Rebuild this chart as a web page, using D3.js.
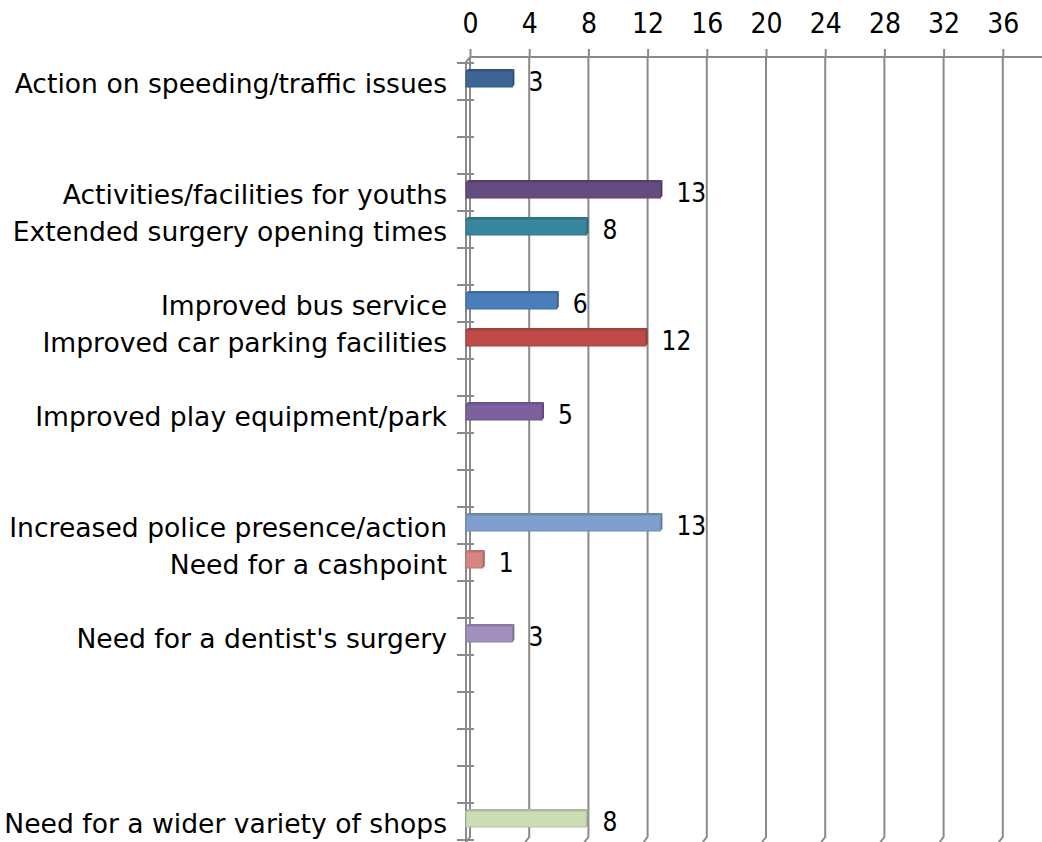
<!DOCTYPE html>
<html><head><meta charset="utf-8">
<script src="https://cdn.jsdelivr.net/npm/d3@7"></script>
<style>
html,body{margin:0;padding:0;background:#fff;}
svg{display:block;}
text{font-family:"DejaVu Sans",sans-serif;fill:#000;}
</style></head><body>
<svg id="c" width="1042" height="842"></svg>
<script>
const categories = [
  "Action on speeding/traffic issues", "", "",
  "Activities/facilities for youths", "Extended surgery opening times", "",
  "Improved bus service", "Improved car parking facilities", "",
  "Improved play equipment/park", "", "",
  "Increased police presence/action", "Need for a cashpoint", "",
  "Need for a dentist's surgery", "", "", "", "",
  "Need for a wider variety of shops"
];
const values = [3, null, null, 13, 8, null, 6, 12, null, 5, null, null, 13, 1, null, 3, null, null, null, null, 8];
const colors = ["#3D6596", null, null, "#654C80", "#37869B", null, "#4A7EBB", "#BE4B48", null, "#7D60A0", null, null,
  "#7F9FCF", "#D88683", null, "#A290BF", null, null, null, null, "#CCDDB6"];
const tickValues = [0, 4, 8, 12, 16, 20, 24, 28, 32, 36];

const condensed = '"DejaVu Sans Condensed","DejaVu Sans",sans-serif';
const svg = d3.select("#c");
const idx = categories.map((d, i) => i);
const x = d3.scaleLinear().domain([0, 40]).range([470, 470 + 40 * 14.8]);
const y = d3.scaleBand().domain(idx).range([63, 840]).paddingInner(0).paddingOuter(0);
const depth = 4, topY = 57, floorY = 837;
const gridColor = "#8a8a8a";

// gridlines (back wall + floor diagonal)
const g = svg.append("g");
tickValues.concat([40]).forEach(v => {
  g.append("path")
    .attr("d", `M${x(v)},${topY}V${floorY}L${x(v) - depth},${floorY + 5}`)
    .attr("fill", "none").attr("stroke", gridColor).attr("stroke-width", 2);
});

// top axis
const xAxis = d3.axisTop(x).tickValues(tickValues).tickSizeInner(8).tickSizeOuter(0).tickFormat(d3.format("d"));
const ax = svg.append("g").attr("transform", `translate(0,${topY})`).call(xAxis);
ax.select(".domain").attr("d", `M${x(0)},0H1042`).attr("stroke", gridColor).attr("stroke-width", 2);
ax.selectAll(".tick line").attr("stroke", gridColor).attr("stroke-width", 2);
ax.selectAll(".tick text").attr("font-size", 28).attr("dy", "0").attr("y", -24)
  .style("font-family", condensed);

// left axis walls
svg.append("path").attr("d", `M${x(0)},${topY}L${x(0) - depth},${topY + 5}V842`)
  .attr("fill", "none").attr("stroke", gridColor).attr("stroke-width", 2);
// left axis ticks at band boundaries
const bounds = idx.map(i => y(i)).concat([y.range()[1]]);
svg.append("g").selectAll("line").data(bounds).join("line")
  .attr("x1", 457).attr("x2", 474).attr("y1", d => d).attr("y2", d => d)
  .attr("stroke", gridColor).attr("stroke-width", 2);

// category labels
const yAxis = d3.axisLeft(y).tickSize(0).tickFormat(i => categories[i]);
const ay = svg.append("g").attr("transform", "translate(447,0)").call(yAxis);
ay.select(".domain").remove();
ay.selectAll(".tick text").attr("font-size", 26.6).attr("x", 0).attr("dy", 0).attr("y", 11)
  .style("font-family", '"DejaVu Sans",sans-serif');

// bars (front face, top face, side face)
const barH = 16;
const data = idx.filter(i => values[i] != null).map(i => ({i, v: values[i], c: colors[i]}));
const bars = svg.append("g").selectAll("g").data(data).join("g");
const x0 = x(0) - depth;
bars.append("path")
  .attr("d", d => {
    const yc = y(d.i) + y.bandwidth() / 2 - 2.5;
    const x1 = x(d.v) - 2;
    return `M${x0},${yc - barH / 2}L${x0 + 2},${yc - barH / 2 - 2}H${x1 + 2}L${x1},${yc - barH / 2}Z`;
  })
  .attr("fill", d => d3.color(d.c).darker(0.5));
bars.append("path")
  .attr("d", d => {
    const yc = y(d.i) + y.bandwidth() / 2 - 2.5;
    const x1 = x(d.v) - 2;
    return `M${x1},${yc - barH / 2}L${x1 + 2},${yc - barH / 2 - 2}V${yc + barH / 2 - 2}L${x1},${yc + barH / 2}Z`;
  })
  .attr("fill", d => d3.color(d.c).darker(0.8));
bars.append("rect")
  .attr("x", x0)
  .attr("y", d => y(d.i) + y.bandwidth() / 2 - 2.5 - barH / 2)
  .attr("width", d => x(d.v) - 2 - x0)
  .attr("height", barH)
  .attr("fill", d => d.c)
  .attr("stroke", d => d3.color(d.c).darker(0.4)).attr("stroke-width", 1);

// value labels
svg.append("g").selectAll("text").data(data).join("text")
  .attr("x", d => x(d.v) + 14)
  .attr("y", d => y(d.i) + y.bandwidth() / 2 + 9.5)
  .attr("font-size", 26)
  .style("font-family", condensed)
  .text(d => d.v);
</script>
</body></html>
